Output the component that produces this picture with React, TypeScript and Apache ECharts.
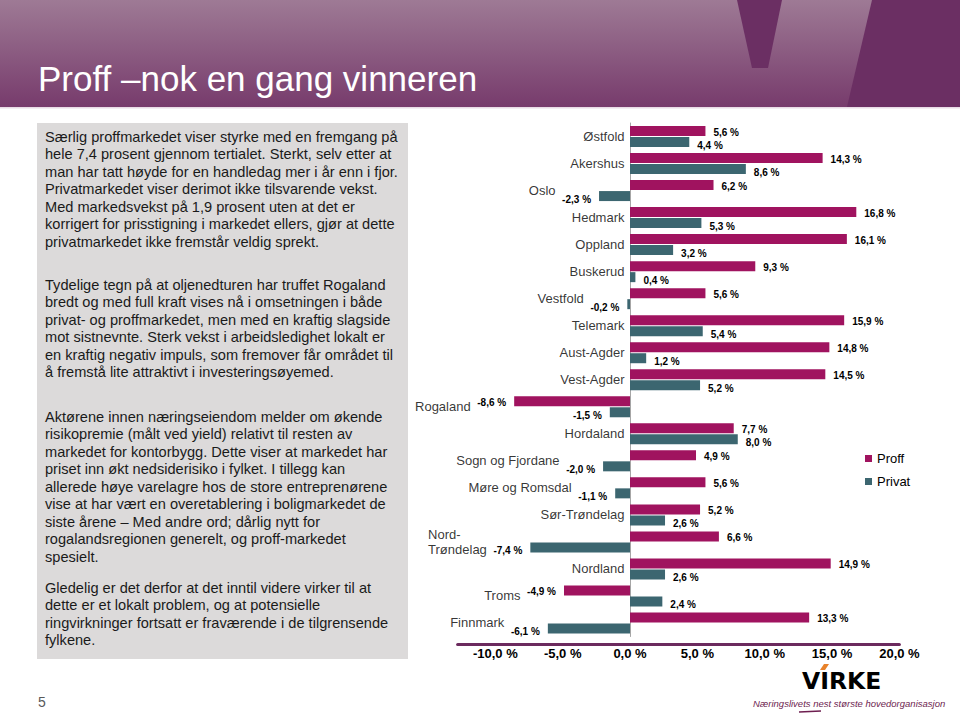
import React, { useEffect, useRef } from 'react';
import * as echarts from 'echarts';

// ---- data ----
const categories = [
  'Østfold', 'Akershus', 'Oslo', 'Hedmark', 'Oppland', 'Buskerud', 'Vestfold',
  'Telemark', 'Aust-Agder', 'Vest-Agder', 'Rogaland', 'Hordaland', 'Sogn og Fjordane',
  'Møre og Romsdal', 'Sør-Trøndelag', 'Nord-Trøndelag', 'Nordland', 'Troms', 'Finnmark',
];
const proffValues = [5.6, 14.3, 6.2, 16.8, 16.1, 9.3, 5.6, 15.9, 14.8, 14.5, -8.6, 7.7, 4.9, 5.6, 5.2, 6.6, 14.9, -4.9, 13.3];
const privatValues = [4.4, 8.6, -2.3, 5.3, 3.2, 0.4, -0.2, 5.4, 1.2, 5.2, -1.5, 8.0, -2.0, -1.1, 2.6, -7.4, 2.6, 2.4, -6.1];
const seriesNames = ['Proff', 'Privat'];
const xTickValues = [-10, -5, 0, 5, 10, 15, 20];
const xMin = -12.8;
const xMax = 20;

const titleText = 'Proff –nok en gang vinneren';
const paragraphs = [
  'Særlig proffmarkedet viser styrke med en fremgang på\nhele 7,4 prosent gjennom tertialet. Sterkt, selv etter at\nman har tatt høyde for en handledag mer i år enn i fjor.\nPrivatmarkedet viser derimot ikke tilsvarende vekst.\nMed markedsvekst på 1,9 prosent uten at det er\nkorrigert for prisstigning i markedet ellers, gjør at dette\nprivatmarkedet ikke fremstår veldig sprekt.',
  'Tydelige tegn på at oljenedturen har truffet Rogaland\nbredt og med full kraft vises nå i omsetningen i både\nprivat- og proffmarkedet, men med en kraftig slagside\nmot sistnevnte. Sterk vekst i arbeidsledighet lokalt er\nen kraftig negativ impuls, som fremover får området til\nå fremstå lite attraktivt i investeringsøyemed.',
  'Aktørene innen næringseiendom melder om økende\nrisikopremie (målt ved yield) relativt til resten av\nmarkedet for kontorbygg. Dette viser at markedet har\npriset inn økt nedsiderisiko i fylket. I tillegg kan\nallerede høye varelagre hos de store entreprenørene\nvise at har vært en overetablering i boligmarkedet de\nsiste årene – Med andre ord; dårlig nytt for\nrogalandsregionen generelt, og proff-markedet\nspesielt.',
  'Gledelig er det derfor at det inntil videre virker til at\ndette er et lokalt problem, og at potensielle\nringvirkninger fortsatt er fraværende i de tilgrensende\nfylkene.',
];
const paragraphTops = [128, 276, 408, 579];
const lineBreaks: Record<string, string> = { 'Nord-Trøndelag': 'Nord-\nTrøndelag' };

const FONT = '"Liberation Sans", Arial, Helvetica, sans-serif';
const PROFF_COLOR = '#A0135F';
const PRIVAT_COLOR = '#3C6670';

const fmt = (v: number) => v.toFixed(1).replace('.', ',') + ' %';

function barData(values: number[]) {
  return values.map((v) => ({ value: v, label: { position: v < 0 ? 'left' : 'right' } }));
}

export default function App() {
  const ref = useRef<HTMLDivElement>(null);

  useEffect(() => {
    if (!ref.current) return;
    const chart = echarts.init(ref.current, undefined, { renderer: 'svg' });

    const labelData = categories.map((c, i) => {
      const a = Math.min(0, proffValues[i], privatValues[i]);
      return { value: [a, c], label: { offset: [a < 0 ? -38 : 0, 0] } };
    });

    const graphic: any[] = [
      {
        type: 'rect',
        shape: { x: 0, y: 0, width: 960, height: 107 },
        style: {
          fill: new echarts.graphic.LinearGradient(0, 0, 0, 1, [
            { offset: 0, color: '#9E7A95' },
            { offset: 1, color: '#773B6C' },
          ]),
        },
        silent: true,
      },
      {
        type: 'polygon',
        shape: { points: [[737, 0], [782, 0], [768, 68], [752, 68]] },
        style: { fill: '#6B2F63' },
        silent: true,
      },
      {
        type: 'polygon',
        shape: { points: [[872, 0], [960, 0], [960, 107], [847, 107]] },
        style: { fill: '#6B2F63' },
        silent: true,
      },
      {
        type: 'rect',
        shape: { x: 0, y: 107, width: 960, height: 1.5 },
        style: { fill: '#E9DCE6' },
        silent: true,
      },
      {
        type: 'text',
        x: 38,
        y: 78,
        style: {
          text: titleText,
          fill: '#FFFFFF',
          fontSize: 35,
          fontFamily: FONT,
          verticalAlign: 'middle',
        },
        silent: true,
      },
      {
        type: 'rect',
        shape: { x: 37, y: 123, width: 371, height: 536 },
        style: { fill: '#DCDADA' },
        silent: true,
      },
      ...paragraphs.map((p, i) => ({
        type: 'text',
        x: 45,
        y: paragraphTops[i],
        style: {
          text: p,
          fill: '#1A1A1A',
          fontSize: 14.6,
          fontFamily: FONT,
          lineHeight: 17.5,
          verticalAlign: 'top',
        },
        silent: true,
      })),
      {
        type: 'text',
        x: 38,
        y: 702,
        style: { text: '5', fill: '#595959', fontSize: 14, fontFamily: FONT, verticalAlign: 'middle' },
        silent: true,
      },
      {
        type: 'text',
        x: 802,
        y: 681,
        style: {
          text: 'VIRKE',
          fill: new echarts.graphic.LinearGradient(0, 0, 1, 0, [
            { offset: 0, color: '#6A2C6A' },
            { offset: 1, color: '#A3226E' },
          ]),
          fontSize: 23.5,
          fontWeight: 'bold',
          fontFamily: '"DejaVu Sans", sans-serif',
          verticalAlign: 'middle',
        },
        silent: true,
      },
      {
        type: 'polygon',
        shape: { points: [[820, 670], [824, 664], [829, 664], [825, 670]] },
        style: { fill: '#E8822A' },
        silent: true,
      },
      {
        type: 'text',
        x: 753,
        y: 703,
        style: {
          text: 'Næringslivets nest største hovedorganisasjon',
          fill: '#6E1E50',
          fontSize: 9.5,
          fontStyle: 'italic',
          fontFamily: FONT,
          verticalAlign: 'middle',
        },
        silent: true,
      },
      {
        type: 'line',
        shape: { x1: 799, y1: 712, x2: 821, y2: 711 },
        style: { stroke: '#6E1E50', lineWidth: 1.5 },
        silent: true,
      },
    ];

    chart.setOption({
      animation: false,
      backgroundColor: '#FFFFFF',
      textStyle: { fontFamily: FONT },
      graphic,
      grid: { left: 457.6, right: 60.6, top: 123, bottom: 80.5, containLabel: false },
      legend: {
        data: seriesNames,
        orient: 'vertical',
        left: 860,
        top: 447,
        itemWidth: 7,
        itemHeight: 7,
        itemGap: 10,
        icon: 'rect',
        textStyle: { fontSize: 13, color: '#000', fontFamily: FONT },
      },
      xAxis: {
        type: 'value',
        min: xMin,
        max: xMax,
        offset: 7.5,
        splitLine: { show: false },
        axisTick: { show: false },
        axisLine: { show: true, onZero: false, lineStyle: { color: '#6B2A5E', width: 3 } },
        axisLabel: {
          customValues: xTickValues,
          formatter: (v: number) => fmt(v),
          fontSize: 13,
          fontWeight: 'bold',
          color: '#000',
          margin: 3,
          fontFamily: FONT,
        },
      },
      yAxis: {
        type: 'category',
        data: categories,
        inverse: true,
        axisLine: { show: true, onZero: true, lineStyle: { color: '#A6A6A6', width: 1 } },
        axisTick: { show: false },
        axisLabel: { show: false },
        splitLine: { show: false },
      },
      series: [
        {
          name: seriesNames[0],
          type: 'bar',
          data: barData(proffValues),
          barWidth: 10,
          barGap: '10%',
          itemStyle: { color: PROFF_COLOR },
          label: {
            show: true,
            distance: 8,
            offset: [0, 1],
            fontSize: 10,
            fontWeight: 'bold',
            color: '#000',
            fontFamily: FONT,
            formatter: (p: any) => fmt(p.value),
          },
        },
        {
          name: seriesNames[1],
          type: 'bar',
          data: barData(privatValues),
          barWidth: 10,
          barGap: '10%',
          itemStyle: { color: PRIVAT_COLOR },
          label: {
            show: true,
            distance: 8,
            offset: [0, 3],
            fontSize: 10,
            fontWeight: 'bold',
            color: '#000',
            fontFamily: FONT,
            formatter: (p: any) => fmt(p.value),
          },
        },
        {
          name: 'kategorier',
          type: 'scatter',
          data: labelData,
          symbolSize: 1,
          itemStyle: { color: 'rgba(0,0,0,0)' },
          silent: true,
          z: 5,
          label: {
            show: true,
            position: 'left',
            distance: 5,
            formatter: (p: any) => {
              const name = categories[p.dataIndex];
              const txt = lineBreaks[name] || name;
              return txt.split('\n').map((l: string) => `{l|${l}}`).join('\n');
            },
            rich: {
              l: { fontSize: 13, color: '#000', align: 'left', lineHeight: 15, fontFamily: FONT },
            },
          },
        },
      ],
    });

    return () => chart.dispose();
  }, []);

  return (
    <div
      ref={ref}
      style={{ position: 'fixed', left: 0, top: 0, width: 960, height: 717, background: '#fff' }}
    />
  );
}
